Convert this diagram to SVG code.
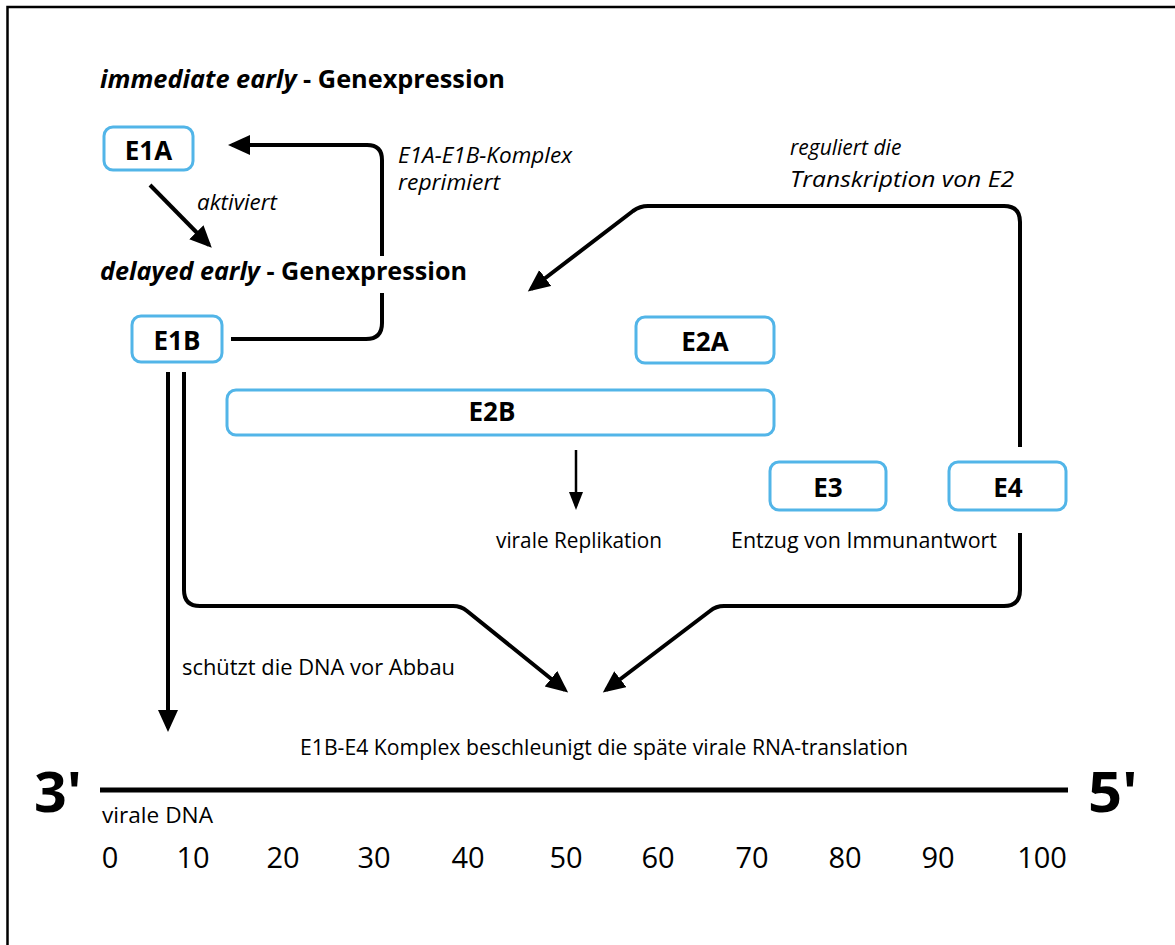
<svg xmlns="http://www.w3.org/2000/svg" width="1175" height="945" viewBox="0 0 1175 945">
<style>
.box{fill:#fff;stroke:#52b5e8;stroke-width:3}
.bt{font-family:"Open Sans","Liberation Sans",sans-serif;font-weight:700;font-size:26px;fill:#000;text-anchor:middle}
.ttl{font-family:"Open Sans","Liberation Sans",sans-serif;font-weight:700;font-size:25px;fill:#000}
.lbl{font-family:"Open Sans","Liberation Sans",sans-serif;font-size:21px;fill:#000}
.it{font-style:italic}
.num{font-family:"Open Sans","Liberation Sans",sans-serif;font-size:29px;fill:#000;text-anchor:middle}
.big{font-family:"Open Sans","Liberation Sans",sans-serif;font-weight:700;font-size:56px;fill:#000}
.c{fill:none;stroke:#000;stroke-width:4;stroke-linejoin:round}
.thin{fill:none;stroke:#000;stroke-width:2.5}
</style>
<defs>
<marker id="ah" markerUnits="userSpaceOnUse" markerWidth="24" markerHeight="22" refX="18" refY="10" orient="auto">
<path d="M0,0 L22,10 L0,20 Z" fill="#000"/>
</marker>
<marker id="ahs" markerUnits="userSpaceOnUse" markerWidth="20" markerHeight="20" refX="14" refY="7" orient="auto">
<path d="M0,0 L18,7 L0,14 Z" fill="#000"/>
</marker>
</defs>
<rect width="1175" height="945" fill="#fff"/>
<path d="M7.5,945 V7 H1175" fill="none" stroke="#000" stroke-width="2.5"/>

<text class="ttl" x="100" y="88" textLength="405" lengthAdjust="spacingAndGlyphs"><tspan font-style="italic">immediate early</tspan> - Genexpression</text>
<text class="ttl" x="100" y="280" textLength="367" lengthAdjust="spacingAndGlyphs"><tspan font-style="italic">delayed early</tspan> - Genexpression</text>

<g id="connectors">
<path class="c" d="M150,185 L209,245" marker-end="url(#ah)"/>
<path class="c" d="M382,256 V160 Q382,145 367,145 H232" marker-end="url(#ah)"/>
<path class="c" d="M382,293 V323 Q382,339 366,339 H231"/>
<path class="c" d="M1020,447 V222 Q1020,206 1004,206 H648 Q640,206 633,211 L531,289" marker-end="url(#ah)"/>
<path class="c" d="M1020,533 V590 Q1020,606 1004,606 H724 Q716,606 710,611 L606,690" marker-end="url(#ah)"/>
<path class="c" d="M184,372 V590 Q184,606 200,606 H453 Q461,606 467,611 L565,690" marker-end="url(#ah)"/>
<path class="c" d="M168,372 V728" stroke-width="3.5" marker-end="url(#ah)"/>
<path class="thin" d="M576,450 V506" marker-end="url(#ahs)"/>
</g>

<g id="E1A"><rect class="box" x="104" y="127" width="89" height="43" rx="9"/><text class="bt" x="148.5" y="160">E1A</text></g>
<g id="E1B"><rect class="box" x="132" y="316" width="90" height="46" rx="9"/><text class="bt" x="177" y="350">E1B</text></g>
<g id="E2A"><rect class="box" x="636" y="317" width="138" height="46" rx="9"/><text class="bt" x="705" y="351">E2A</text></g>
<g id="E2B"><rect class="box" x="227" y="390" width="547" height="45" rx="9"/><text class="bt" x="492" y="421">E2B</text></g>
<g id="E3"><rect class="box" x="770" y="462" width="116" height="48" rx="9"/><text class="bt" x="828" y="497">E3</text></g>
<g id="E4"><rect class="box" x="949" y="462" width="117" height="48" rx="9"/><text class="bt" x="1008" y="497">E4</text></g>

<g id="labels">
<text class="lbl it" x="197" y="210" textLength="80" lengthAdjust="spacingAndGlyphs">aktiviert</text>
<text class="lbl it" x="398" y="163" textLength="174" lengthAdjust="spacingAndGlyphs">E1A-E1B-Komplex</text>
<text class="lbl it" x="398" y="190" textLength="102" lengthAdjust="spacingAndGlyphs">reprimiert</text>
<text class="lbl it" x="790" y="155">reguliert die</text>
<text class="lbl it" x="790" y="187" textLength="224" lengthAdjust="spacingAndGlyphs">Transkription von E2</text>
<text class="lbl" x="496" y="548" textLength="166" lengthAdjust="spacingAndGlyphs">virale Replikation</text>
<text class="lbl" x="731" y="548" textLength="266" lengthAdjust="spacingAndGlyphs">Entzug von Immunantwort</text>
<text class="lbl" x="182" y="675" textLength="273" lengthAdjust="spacingAndGlyphs">schützt die DNA vor Abbau</text>
<text class="lbl" x="300" y="755" textLength="608" lengthAdjust="spacingAndGlyphs">E1B-E4 Komplex beschleunigt die späte virale RNA-translation</text>
<text class="lbl" x="102" y="823" textLength="111" lengthAdjust="spacingAndGlyphs">virale DNA</text>
</g>

<g id="dna">
<line x1="100" y1="790" x2="1068" y2="790" stroke="#000" stroke-width="5"/>
<text class="big" x="34" y="812" textLength="48" lengthAdjust="spacingAndGlyphs">3'</text>
<text class="big" x="1088" y="812" textLength="50" lengthAdjust="spacingAndGlyphs">5'</text>
<text class="num" x="110" y="868">0</text>
<text class="num" x="193" y="868">10</text>
<text class="num" x="283" y="868">20</text>
<text class="num" x="374" y="868">30</text>
<text class="num" x="468" y="868">40</text>
<text class="num" x="566" y="868">50</text>
<text class="num" x="658" y="868">60</text>
<text class="num" x="752" y="868">70</text>
<text class="num" x="845" y="868">80</text>
<text class="num" x="938" y="868">90</text>
<text class="num" x="1042" y="868">100</text>
</g>
</svg>
